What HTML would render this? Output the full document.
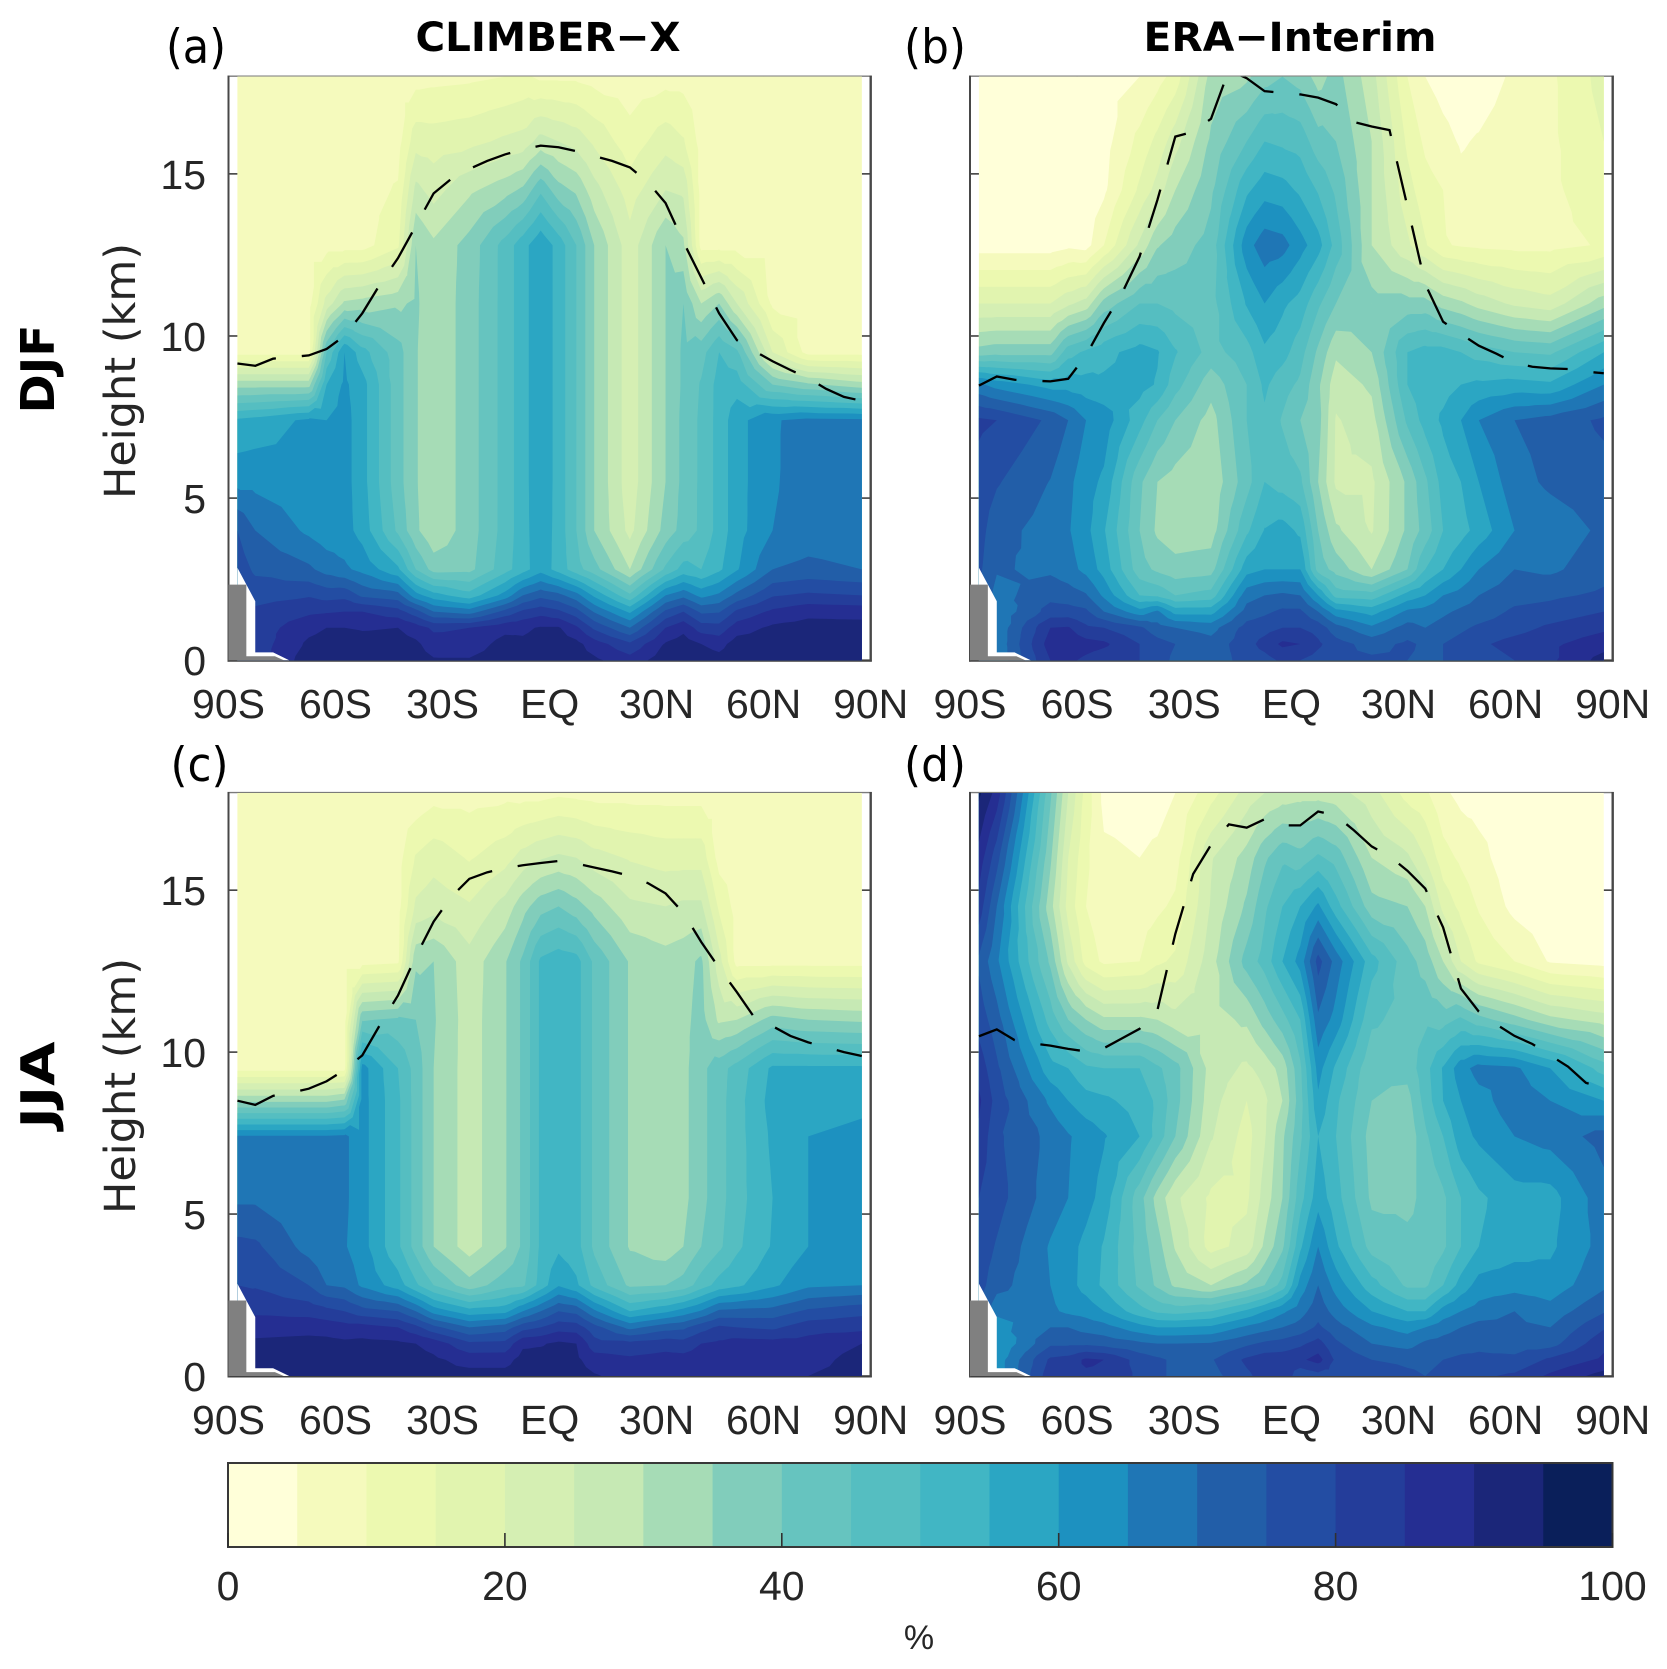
<!DOCTYPE html>
<html lang="en">
<head>
<meta charset="utf-8">
<title>Cloud fraction: CLIMBER-X vs ERA-Interim</title>
<style>
html,body{margin:0;padding:0;background:#fff;}
svg{display:block;}
.tick{font-family:"Liberation Sans",sans-serif;font-size:41px;fill:#262626;}
.lab{font-family:"DejaVu Sans",sans-serif;fill:#262626;}
.bold{font-family:"DejaVu Sans",sans-serif;font-weight:bold;fill:#000;}
</style>
</head>
<body>
<svg id="figure" xmlns="http://www.w3.org/2000/svg" width="1667" height="1669" viewBox="0 0 1667 1669">
<rect x="0" y="0" width="1667" height="1669" fill="#fff"/>
<g id="panels"></g>
<g id="colorbar"></g>
<text class="bold" x="548" y="51" font-size="40" text-anchor="middle" textLength="265" lengthAdjust="spacingAndGlyphs">CLIMBER−X</text>
<text class="bold" x="1290" y="51" font-size="40" text-anchor="middle" textLength="293" lengthAdjust="spacingAndGlyphs">ERA−Interim</text>
<text class="lab" style="fill:#000" x="196" y="63" font-size="47" text-anchor="middle" textLength="60" lengthAdjust="spacingAndGlyphs">(a)</text>
<text class="lab" style="fill:#000" x="935" y="63" font-size="47" text-anchor="middle" textLength="62" lengthAdjust="spacingAndGlyphs">(b)</text>
<text class="lab" style="fill:#000" x="199.5" y="781" font-size="47" text-anchor="middle" textLength="58" lengthAdjust="spacingAndGlyphs">(c)</text>
<text class="lab" style="fill:#000" x="935" y="781" font-size="47" text-anchor="middle" textLength="62" lengthAdjust="spacingAndGlyphs">(d)</text>
<text class="lab" transform="translate(135 371) rotate(-90)" font-size="43" text-anchor="middle" textLength="256" lengthAdjust="spacingAndGlyphs">Height (km)</text>
<text class="lab" transform="translate(135 1086) rotate(-90)" font-size="43" text-anchor="middle" textLength="256" lengthAdjust="spacingAndGlyphs">Height (km)</text>
<text class="bold" transform="translate(54 369) rotate(-90)" font-size="46" text-anchor="middle" textLength="89" lengthAdjust="spacingAndGlyphs">DJF</text>
<text class="bold" transform="translate(54 1085) rotate(-90)" font-size="46" text-anchor="middle" textLength="87" lengthAdjust="spacingAndGlyphs">JJA</text>
<text class="tick" x="919" y="1649" style="font-size:34px" text-anchor="middle">%</text>
</svg>
<script>
const latitudes=[-87.5,-82.5,-67.5,-62.5,-57.5,-52.5,-42.5,-37.5,-32.5,-22.5,-12.5,-7.5,-2.5,2.5,7.5,12.5,22.5,32.5,37.5,42.5,47.5,52.5,62.5,72.5,87.5];
const heights=[0,0.5,1,1.5,2,2.8,4,5.5,7.4,8.5,9.5,11,12.8,14.5,16,18];

const cloudDjfModel=[
[82,82,82,81,80,78,75,63.5,56,33,8,8,8,8,8,8],
[82,82,82,81,78,74,70,63.5,57,33,8,8,8,8,8,8],
[93,91,88.5,84,79.5,71,64,62,61,33,8,8,8,8,8,8],
[93,92,90,84.5,78,68,62,62,60,55,45,22,8,8,8,8],
[94,93,90,85,78.5,66,62,62,62,61,60,31,8,8,8,8],
[93,92,89.5,85,74,63.5,58,57,57,57,52,32,8,8,8,8],
[93,92,90,82,72,56,44,42,42,42,42,34,14,10.5,8,8],
[92,91,87.5,77,62,45,36,35.5,35.5,35.5,35.5,36,35,26.5,18,8],
[90.5,87.5,84,70,57,38,31,31,31,31,31,31,31,23,17.5,8.5],
[90.5,87,85,67.5,52,38.5,37.5,37.5,37.5,37.5,37.5,37.5,37,29,18.5,9],
[93,92,88.5,76.5,62,48,47,47,47,47,47,47,47,33,21,10],
[92,91,89,81,70,53,53,53,53,53,53,53,53,36,22,11],
[93,92,90.5,83,73.5,58,58.5,59,59,59,59,59,59,44,27,9],
[93,92,90.5,81,71.5,53,53,53,53,53,53,53,53,37,25,9],
[92,91.5,86,77,67,47,45,45,45,45,45,45,45,34,23,9],
[91,87.5,79,69.5,59,42,35,35,35,35,35,35,35,27,19,8],
[87,81,70,59,46,30,23.5,22,22,22,22,22,22,17.5,12,7],
[93,90.5,85,76,65,46,37,35,35,35,35,35,35,25,18,8],
[94,92.5,88.5,80,68.5,52,42,41.5,41.5,41,41,40,31,24,15.5,8],
[93,90,82.5,74,63.5,50,46,46,46,45.5,43,30,8,8,8,8],
[92,88,82,74.5,66,54,52,52,52,52,50,35,8,8,8,8],
[94,92.5,87.5,81,71.5,59.5,58,58,58,53,46,25,8,8,8,8],
[94,93,91,86,79.5,70,65,64.5,64.5,40,20,9,8,8,8,8],
[94.5,94,92,88.5,81,71.5,67,67,66.5,36,8,8,8,8,8,8],
[94,94,92,88,80,70,66,66,66,32,8,8,8,8,8,8]
];
const cloudDjfEra=[
[76,76,76,76,76,76,77,78,81,66,37,20,2.6,2.5,2.5,2.5],
[66,66,66,66,68,70.5,72,75.5,80,63,38,20,2.6,2.5,2.5,2.5],
[85,87.5,85,77,73.5,69,67.7,69.8,74,58,38,20,2.6,2.5,2.5,2.5],
[86,88.5,85.5,77,72.5,67,65.5,66.3,70,58,48,24,3.9,2.5,2.5,2.5],
[84,87,81,76,70.5,63.5,61.5,62,65,57,51,27,3,2.5,2.5,2.5],
[82,86,80,70,64,58,55.5,59,63,56,53.5,37,10,4,3,3],
[80,80,76,62,50,42,40,41,52,57,57,45,26,16,11.5,5],
[77,77,72,66,49,39,34,35,45,54.5,55.5,45,34.5,22,16.5,8],
[74,75,70,58,45,37,32,33,40,47,50.5,43.5,37.5,30,23,12],
[72,72,68,58,47,38,32.5,31,33,37,43,43,42,39,36,32],
[77,78,77,72,68,58,49,43,45,45,48,55.5,63,54,45,34],
[78,82,78,74,70,60,55.3,50,49,51,54,60,68,58,50,38],
[81,86,80,76,71,60,57,48,44.5,47,52,56,67,57,49,40],
[80,85,80,76,70,60,54,46,40,44,47,53,62,54,48,38],
[78,81,78,70,60,43,40,35,37,36,39,46,57,49.5,42,33],
[76,77,72,62,48,38,31,24,24.5,27,31,40,48,44,40,37],
[76,73,66,58,47,30,24.5,24,28,31,35,37,30,30,30,27],
[75,76,72,66,57,40,36,36,46,50,50,37,21,17,14,10],
[74,74,70,67,60,50,42,44,52,53,52,37,15.5,12,9,5],
[75,75,72,69,65,55,50,52,56,53,52,33,10.5,10,6.5,3],
[76,77,74,71,67,60,53,55,60,55,50,31,9.5,6.5,4.5,2],
[77,79,76,72,70,65,57,60,65,56,48,28,9,7,5.5,2],
[80,82,78,76,73,70,65,68,70,57,45,24,8.5,8,8,6],
[84,84,81,77,74,69,67,71,72,56,44,22,8.5,9,9,9],
[92,88,84,80,76,73,71,73,76,65,55,33,10.5,13,15,17]
];
const cloudJjaModel=[
[84,84,84,83,82,80,76.5,69,65.5,34,8,8,8,8,8,8],
[92,92,91,88,84,79.5,76,69,65.5,34,8,8,8,8,8,8],
[93,92.5,91.5,88.5,83,75,68,66,65.5,34,8,8,8,8,8,8],
[93,92.5,91.5,88,81.5,70,66,66,65.5,34,8,8,8,8,8,8],
[93,92.5,91,87,80,69,65.5,66,66,36,8,8,8,8,8,8],
[93,92,91.5,87,77,64,62,62,62,62,62,39.5,8,8,8,8],
[93,92.5,91,85,75,57.5,51,51,51,51,50,41,9,8,8,8],
[93,92,90,81.5,70,51,43,43,43,43,43,40,34,21,15.5,6],
[92,91,88,76.5,63,45,35,35,35,35,35,35.5,35,23,18,8],
[92,88,81,70,57,37,27.5,27.5,27.5,27.5,27.5,27.5,27,20.5,14.5,8],
[92,88,81.5,72.5,58.5,43,34.5,34.5,34.5,34.5,34.5,34.5,34.5,27,18,8.5],
[93,92,89,78,65,44,41,41,41,41,41,41,41,33,22,8],
[93,92,89.5,80,70,52,51,51,51,51,51,51,51,38,24.5,8],
[93,92,91,83,75,59.5,54,53,53,53,53,53,53,40,26,9],
[92,91,90,82.5,73.5,56,52,52,52,52,52,52,52,37,25,8.5],
[90.5,87.5,82,77,66,48.5,44,44,44,44,44,44,44,33,22,8],
[88,86,81.5,68.5,55,39,34.5,34.5,34.5,34.5,34.5,34.5,34.5,26,19.5,8],
[88,87,83,73,59,40,32,32,32,32,32,32,32,25,18,8],
[88,87,82,74,62,42,35,33.5,33.5,33.5,33.5,33.5,33,26,18,8],
[89,87.5,85,78,65.5,47.5,40,38.5,38.5,38.5,38.5,37,36,26,18,8],
[90,88.5,86,81,71,52,44,43,43,43,43,29,22,14,8,8],
[90,89,87.5,80,71.5,54,49,48,48,48,47,30,8,8,8,8],
[89,88,87,79,72,59,55.5,55,56,57,56,37,8,8,8,8],
[90,88,87,83,76,64,60,60,60,58,56,35,8,8,8,8],
[92,92,90,83.5,78.5,65,63,62.5,61,59,56,34,8,8,8,8]
];
const cloudJjaEra=[
[77,77,77,77,77,77,78,80,84,86,83,78,74,83,88,96],
[62,62,60,63,66,72,74.5,77,76,78,76,72,66,70,77,88],
[83,81,74,70,66,65,64.5,67.5,68.5,64,57,48,39,32,36,41],
[84,82,74,70,64,62,62,65,65.5,60,55,40,24,18,20,25],
[84,86,74,68,63,58,58.5,62,63,57,51,35,13,10,11,13],
[84,85,73,67,60,54,54.5,58,60.5,56,50,31,9,7,6,3.5],
[79,78,71,62,52,44,43,42,55,53,50,31,10,8,5,3],
[76,76,70,60,49,39,37,33,48,49,46,30,14,9,6,3],
[74,74,70,60,48,34,29.5,26,40,42,42,27,16,11,8,5],
[73,74.5,70.5,61,50,30,18,19,25.5,27,28,28,28,25.5,24.5,13],
[79,81,74,66,56,36,22,19,18,20,24,31,42,36,32,22],
[82,83,76,68,60,40,31,27,24.5,24,27,37,47,44,39,25],
[85,83,77,70,64,47,39,35,34,30,32,43,55,50,44,27],
[76,84,79,72,68,62,54,48,44,43,44,50,62,55,42,28],
[78,87,82,76,73,70,65,58,55,59,62,69,77,61,46,28],
[78,79,76,72,68,63,56,52,50,51,54,63,68,52,43,27],
[78,75,70,66,60,52,43,39,38,40,41,46,52,37,30,22],
[76,74,68,63,55,44,41,39,36,38,42,43,42,35,26,13],
[75,74,71,65,55,44,41,41,44,47,48,44,38,30,20,11],
[76,75,72,68,62,50,44,44,50,55,55.5,43,30,18.5,12,6],
[78,76,73,70,65,57,50,50,58,60,63,46,20,13.5,9,3.5],
[79,76,74,72,67,62,55,54,61,63,67,42,14,9.5,6.5,3],
[81,76,73,71,70,63,58,58,65,68,66,37,10,3.5,2,2],
[86,81,73,70,67,62,59,58,67,65,60,31.6,4.5,2,2,2],
[92,86,83.6,79.4,74.5,69,67,68,72,60,47.5,27.9,3,2,2,2]
];

const tropopauseLatitudes=[-87.5,-82.5,-77.5,-72.5,-67.5,-62.5,-57.5,-52.5,-47.5,-42.5,-37.5,-32.5,-27.5,-22.5,-17.5,-12.5,-7.5,-2.5,2.5,7.5,12.5,17.5,22.5,27.5,32.5,37.5,42.5,47.5,52.5,57.5,62.5,67.5,72.5,77.5,82.5,87.5];
const tropopauseDjfModel=[9.15,9.08,9.3,9.35,9.4,9.6,10,10.7,11.6,12.4,13.4,14.4,14.85,15.15,15.4,15.6,15.75,15.87,15.82,15.7,15.55,15.4,15.2,14.75,14.1,12.9,11.8,10.7,9.87,9.53,9.22,8.95,8.7,8.37,8.12,8];
const tropopauseDjfEra=[8.47,8.75,8.65,8.62,8.6,8.68,9.4,10.4,11.3,12.45,14.2,16.15,16.3,16.7,18.2,17.95,17.55,17.5,17.45,17.35,17.15,16.6,16.46,16.35,14,11.6,10.44,10.06,9.7,9.45,9.17,9.05,9,8.98,8.9,8.85];
const tropopauseJjaModel=[8.5,8.37,8.65,8.75,8.87,9.1,9.45,9.9,10.85,11.75,12.95,14.03,14.8,15.35,15.55,15.68,15.77,15.84,15.9,15.82,15.7,15.58,15.44,15.22,14.9,14.3,13.4,12.6,11.85,11.05,10.8,10.5,10.3,10.15,10,9.88];
const tropopauseJjaEra=[10.49,10.7,10.37,10.27,10.2,10.1,10.02,10.12,10.42,10.72,11.3,13.65,15.5,16.4,17.03,16.93,17.19,17,17,17.43,17.3,16.85,16.35,16.05,15.6,15.05,13.85,11.96,11.25,10.85,10.5,10.25,9.9,9.55,9.05,8.9];

const contourLevels=[0,5,10,15,20,25,30,35,40,45,50,55,60,65,70,75,80,85,90,95,100];
const xTickValues=[-90,-60,-30,0,30,60,90];
const xTickLabels=['90S','60S','30S','EQ','30N','60N','90N'];
const yTickValues=[0,5,10,15];
const colorbarTickValues=[0,20,40,60,80,100];
const maskLatitudes=[-87.5,-82.5,-82.5,-77.5,-73];
const maskHeights=[2.85,1.82,0.24,0.24,0];

const palette=['#FFFFD9','#F5FABD','#ECF9B0','#E1F4AF','#D5EFB3','#C6E9B4','#A6DCB6','#81CDBB','#66C4BF','#55BEC1','#41B6C4','#2BA6C3','#1D91C0','#1F76B5','#225EA8','#234DA3','#243D9A','#252E92','#1B2679','#0A1F5A'];
const SVGNS='http://www.w3.org/2000/svg';

function make(tag,attrs,parent){
  const el=document.createElementNS(SVGNS,tag);
  for(const k in attrs){el.setAttribute(k,attrs[k]);}
  parent.appendChild(el);
  return el;
}

function clipTriangle(tri,level){
  const out=[];
  for(let i=0;i<tri.length;i++){
    const a=tri[i],b=tri[(i+1)%tri.length];
    const ain=a[2]>=level,bin=b[2]>=level;
    if(ain){out.push(a);}
    if(ain!==bin){
      const t=(level-a[2])/(b[2]-a[2]);
      out.push([a[0]+t*(b[0]-a[0]),a[1]+t*(b[1]-a[1]),level]);
    }
  }
  return out;
}

function polyPath(pts){
  let s='';
  for(let i=0;i<pts.length;i++){
    s+=(i?'L':'M')+pts[i][0].toFixed(2)+' '+pts[i][1].toFixed(2);
  }
  return s+'Z';
}

function bandPath(grid,level,sx,sy){
  let d='';
  for(let i=0;i<latitudes.length-1;i++){
    for(let j=0;j<heights.length-1;j++){
      const c=[
        [sx(latitudes[i]),sy(heights[j]),grid[i][j]],
        [sx(latitudes[i+1]),sy(heights[j]),grid[i+1][j]],
        [sx(latitudes[i+1]),sy(heights[j+1]),grid[i+1][j+1]],
        [sx(latitudes[i]),sy(heights[j+1]),grid[i][j+1]]
      ];
      const mn=Math.min(c[0][2],c[1][2],c[2][2],c[3][2]);
      const mx=Math.max(c[0][2],c[1][2],c[2][2],c[3][2]);
      if(mx<level){continue;}
      if(mn>=level){d+=polyPath(c);continue;}
      const m=[(c[0][0]+c[2][0])/2,(c[0][1]+c[2][1])/2,(c[0][2]+c[1][2]+c[2][2]+c[3][2])/4];
      for(let k=0;k<4;k++){
        const p=clipTriangle([c[k],c[(k+1)%4],m],level);
        if(p.length>=3){d+=polyPath(p);}
      }
    }
  }
  return d;
}

function drawPanel(cfg){
  const root=document.getElementById('panels');
  const g=make('g',{},root);
  
  
  const sx=function(lat){return cfg.left+(lat+90)/180*(cfg.right-cfg.left);};
  const sy=function(h){return cfg.bottom-h/18*(cfg.bottom-cfg.top);};
  const clipId='clip-'+cfg.id;
  const cp=make('clipPath',{id:clipId},g);
  make('rect',{x:cfg.left,y:cfg.top,width:cfg.right-cfg.left,height:cfg.bottom-cfg.top},cp);

  yTickValues.forEach(function(v){
    const t1=make('line',{x1:cfg.left,x2:cfg.left+9,y1:sy(v),y2:sy(v),stroke:'#404040','stroke-width':1.6},g);
    
    
    const t2=make('line',{x1:cfg.right-9,x2:cfg.right,y1:sy(v),y2:sy(v),stroke:'#404040','stroke-width':1.6},g);
    
    
    if(cfg.yLabels){
      const lab=make('text',{x:206,y:sy(v)+15,'text-anchor':'end','class':'tick'},g);
      
      
      lab.textContent=String(v);
    }
  });
  xTickValues.forEach(function(v,i){
    const t=make('line',{x1:sx(v),x2:sx(v),y1:cfg.bottom,y2:cfg.bottom-4,stroke:'#404040','stroke-width':1.6},g);
    
    
    const tt=make('line',{x1:sx(v),x2:sx(v),y1:cfg.top-1,y2:cfg.top+3,stroke:'#606060','stroke-width':1.4},g);
    
    
    const lab=make('text',{x:sx(v),y:cfg.bottom+58,'text-anchor':'middle','class':'tick'},g);
    
    
    lab.textContent=xTickLabels[i];
  });

  const top=make('line',{x1:cfg.left-1,x2:cfg.right+1,y1:cfg.top-0.4,y2:cfg.top-0.4,stroke:'#7a7a7a','stroke-width':1.4},g);
  
  
  const bot=make('line',{x1:cfg.left-1,x2:cfg.right+1,y1:cfg.bottom+0.6,y2:cfg.bottom+0.6,stroke:'#404040','stroke-width':1.8},g);
  
  
  const lft=make('line',{x1:cfg.left,x2:cfg.left,y1:cfg.top-1,y2:cfg.bottom+1.4,stroke:'#484848','stroke-width':2},g);
  
  
  const rgt=make('line',{x1:cfg.right,x2:cfg.right,y1:cfg.top-1,y2:cfg.bottom+1.4,stroke:'#484848','stroke-width':2.4},g);
  
  

  const base=make('rect',{x:sx(latitudes[0]),y:cfg.top,width:sx(latitudes[latitudes.length-1])-sx(latitudes[0]),height:cfg.bottom-cfg.top,fill:palette[0]},g);
  
  
  for(let k=1;k<palette.length;k++){
    const d=bandPath(cfg.grid,contourLevels[k],sx,sy);
    if(!d){continue;}
    const band=make('path',{d:d,fill:palette[k]},g);
    
    
  }

  let mask='M'+sx(maskLatitudes[0])+' '+sy(0);
  maskLatitudes.forEach(function(lat,i){mask+='L'+sx(lat)+' '+sy(maskHeights[i]);});
  const m=make('path',{d:mask+'Z',fill:'#fff'},g);
  
  

  const gray=make('path',{d:'M'+cfg.left+' '+sy(2.33)+'H'+sx(-85)+'V'+sy(0.12)+'H'+sx(-77)+'L'+sx(-74.5)+' '+sy(0)+'H'+cfg.left+'Z',fill:'#808080'},g);
  
  

  let line='';
  tropopauseLatitudes.forEach(function(lat,i){line+=(i?'L':'M')+sx(lat).toFixed(2)+' '+sy(cfg.tropopause[i]).toFixed(2);});
  const tp=make('path',{d:line,fill:'none',stroke:'#000','stroke-width':2.3,'stroke-dasharray':'40 26','clip-path':'url(#'+clipId+')'},g);
  
  
}

drawPanel({id:'a',left:228.5,right:870.7,top:76.6,bottom:660.2,grid:cloudDjfModel,tropopause:tropopauseDjfModel,yLabels:true});
drawPanel({id:'b',left:970,right:1612.7,top:76.6,bottom:660.2,grid:cloudDjfEra,tropopause:tropopauseDjfEra,yLabels:false});
drawPanel({id:'c',left:228.5,right:870.7,top:793,bottom:1376,grid:cloudJjaModel,tropopause:tropopauseJjaModel,yLabels:true});
drawPanel({id:'d',left:970,right:1612.7,top:793,bottom:1376,grid:cloudJjaEra,tropopause:tropopauseJjaEra,yLabels:false});

(function(){
  const g=document.getElementById('colorbar');
  const L=228,R=1612.5,T=1463,B=1547;
  const cx=function(v){return L+v/100*(R-L);};
  for(let k=0;k<palette.length;k++){
    const seg=make('rect',{x:cx(contourLevels[k]),y:T,width:cx(contourLevels[k+1])-cx(contourLevels[k])+0.4,height:B-T,fill:palette[k]},g);
    
    
  }
  const frame=make('rect',{x:L,y:T,width:R-L,height:B-T,fill:'none',stroke:'#383838','stroke-width':2},g);
  
  
  colorbarTickValues.forEach(function(v){
    const t=make('line',{x1:cx(v),x2:cx(v),y1:B,y2:B-14,stroke:'#303030','stroke-width':1.6},g);
    
    
    const lab=make('text',{x:cx(v),y:1600,'text-anchor':'middle','class':'tick'},g);
    
    
    lab.textContent=String(v);
  });
})();
</script>
</body>
</html>
